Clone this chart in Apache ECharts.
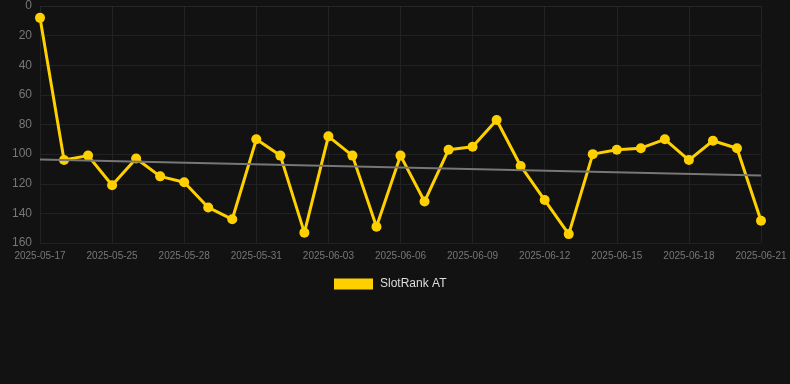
<!DOCTYPE html>
<html>
<head>
<meta charset="utf-8">
<script src="https://cdn.jsdelivr.net/npm/echarts@6/dist/echarts.min.js"></script>
<style>
  html, body { margin: 0; padding: 0; background: #121212; }
  #chart { width: 790px; height: 384px; }
</style>
</head>
<body>
<div id="chart"></div>
<script>
// categories (dates)
var dates = [
  "2025-05-17", "2025-05-23", "2025-05-24", "2025-05-25", "2025-05-26", "2025-05-27",
  "2025-05-28", "2025-05-29", "2025-05-30", "2025-05-31", "2025-06-01", "2025-06-02",
  "2025-06-03", "2025-06-04", "2025-06-05", "2025-06-06", "2025-06-07", "2025-06-08",
  "2025-06-09", "2025-06-10", "2025-06-11", "2025-06-12", "2025-06-13", "2025-06-14",
  "2025-06-15", "2025-06-16", "2025-06-17", "2025-06-18", "2025-06-19", "2025-06-20",
  "2025-06-21"
];
// rank values
var rankValues = [
  8, 104, 101, 121, 103, 115, 119, 136, 144, 90, 101, 153,
  88, 101, 149, 101, 132, 97, 95, 77, 108, 131, 154, 100,
  97, 96, 90, 104, 91, 96, 145
];
// trend line ends (first / last category)
var trendValues = [103.7, 114.5];
var seriesName = "SlotRank AT";

var chart = echarts.init(document.getElementById('chart'));

var option = {
  backgroundColor: '#121212',
  animation: false,
  grid: {
    left: 40,
    right: 29,
    top: 6,
    bottom: 141
  },
  legend: {
    data: [seriesName],
    left: 329,
    bottom: 89,
    itemWidth: 39,
    itemHeight: 11,
    icon: 'rect',
    textStyle: { color: '#dddddd', fontSize: 12, padding: [0, 0, 0, 2] }
  },
  xAxis: {
    type: 'category',
    data: dates,
    boundaryGap: false,
    axisLine: { show: true, lineStyle: { color: '#262626' } },
    axisTick: { show: true, interval: 2, lineStyle: { color: '#262626' } },
    axisLabel: { color: '#777777', fontSize: 10, interval: 2 },
    splitLine: { show: true, interval: 2, lineStyle: { color: '#222222' } }
  },
  yAxis: {
    type: 'value',
    inverse: true,
    min: 0,
    max: 160,
    interval: 20,
    axisLine: { show: false },
    axisTick: { show: false },
    axisLabel: { color: '#777777', fontSize: 12 },
    splitLine: { lineStyle: { color: '#222222' } }
  },
  series: [{
    name: seriesName,
    type: 'line',
    data: rankValues,
    symbol: 'circle',
    symbolSize: 10,
    lineStyle: { color: '#ffd000', width: 3 },
    itemStyle: { color: '#ffd000' },
    z: 3,
    markLine: {
      silent: true,
      symbol: ['none', 'none'],
      label: { show: false },
      lineStyle: { color: '#777777', width: 2, type: 'solid' },
      data: [[
        { coord: [dates[0], trendValues[0]] },
        { coord: [dates[dates.length - 1], trendValues[1]] }
      ]]
    }
  }]
};

chart.setOption(option);
</script>
</body>
</html>
